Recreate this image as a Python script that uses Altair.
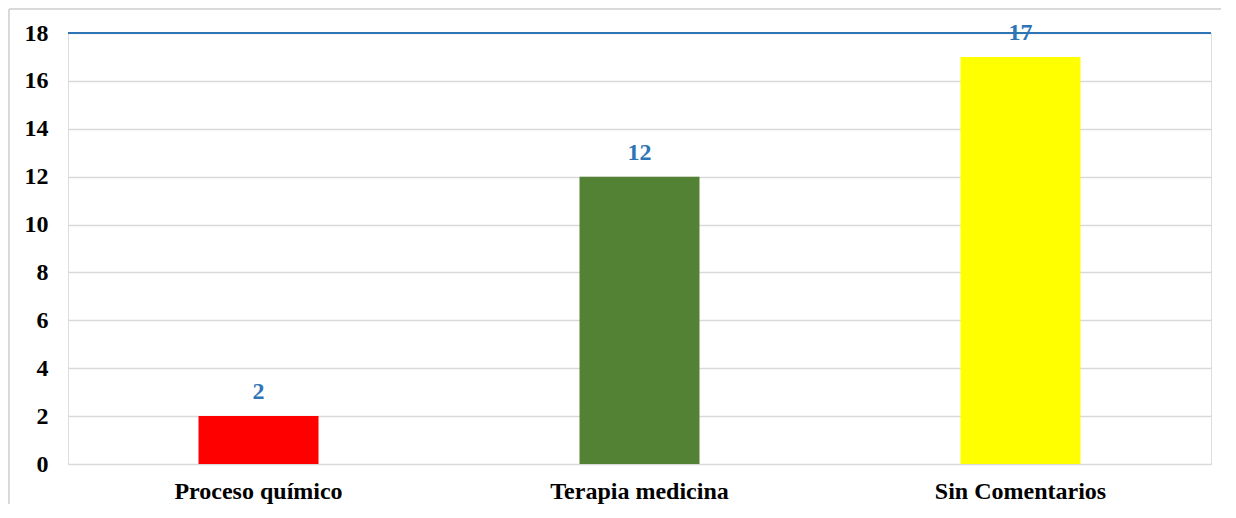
import altair as alt
import pandas as pd

categories = ["Proceso químico", "Terapia medicina", "Sin Comentarios"]
values = [2, 12, 17]
colors = ["#FF0000", "#548235", "#FFFF00"]
y_ticks = [0, 2, 4, 6, 8, 10, 12, 14, 16, 18]

df = pd.DataFrame({"cat": categories, "val": values, "color": colors})

W, H = 1143, 431
FONT = "Liberation Serif"
FS = 24

x = alt.X("cat:N", sort=categories, title=None,
          scale=alt.Scale(paddingInner=0, paddingOuter=0),
          axis=alt.Axis(labelAngle=0, labelFont=FONT, labelFontSize=FS, labelFontWeight="bold",
                        labelColor="#000000", labelPadding=15, ticks=False, domain=False, grid=False))
y = alt.Y("val:Q", title=None,
          scale=alt.Scale(domain=[0, 18], nice=False),
          axis=alt.Axis(values=y_ticks, labelFont=FONT, labelFontSize=FS, labelFontWeight="bold",
                        labelColor="#000000", labelPadding=20, ticks=False, domain=False,
                        grid=True, gridColor="#D9D9D9", gridWidth=1.5))

bars = alt.Chart(df).mark_bar(size=120).encode(
    x=x, y=y, color=alt.Color("color:N", scale=None)
)

labels = alt.Chart(df).mark_text(
    font=FONT, fontSize=FS, fontWeight="bold", color="#2E75B6", baseline="alphabetic", dy=-17
).encode(x=alt.X("cat:N", sort=categories), y="val:Q", text="val:Q")

top_line = alt.Chart(pd.DataFrame({"v": [18]})).mark_rule(color="#2E75B6", strokeWidth=2).encode(
    y="v:Q"
)

one = pd.DataFrame({"a": [0]})
border_top = alt.Chart(one).mark_rule(color="#D9D9D9", strokeWidth=2, clip=False).encode(
    x=alt.value(-59), x2=alt.value(W + 10), y=alt.value(-24)
)
border_left = alt.Chart(one).mark_rule(color="#D9D9D9", strokeWidth=2, clip=False).encode(
    x=alt.value(-59), y=alt.value(-24), y2=alt.value(H + 40)
)

chart = alt.layer(border_top, border_left, bars, top_line, labels).properties(
    width=W, height=H,
    autosize=alt.AutoSizeParams(type="none"),
    padding={"left": 60, "top": 25, "right": 10, "bottom": 40},
).configure_view(stroke=None).configure(background="#FFFFFF")

chart.save("out.html", embed_options={"renderer": "svg", "actions": False})
